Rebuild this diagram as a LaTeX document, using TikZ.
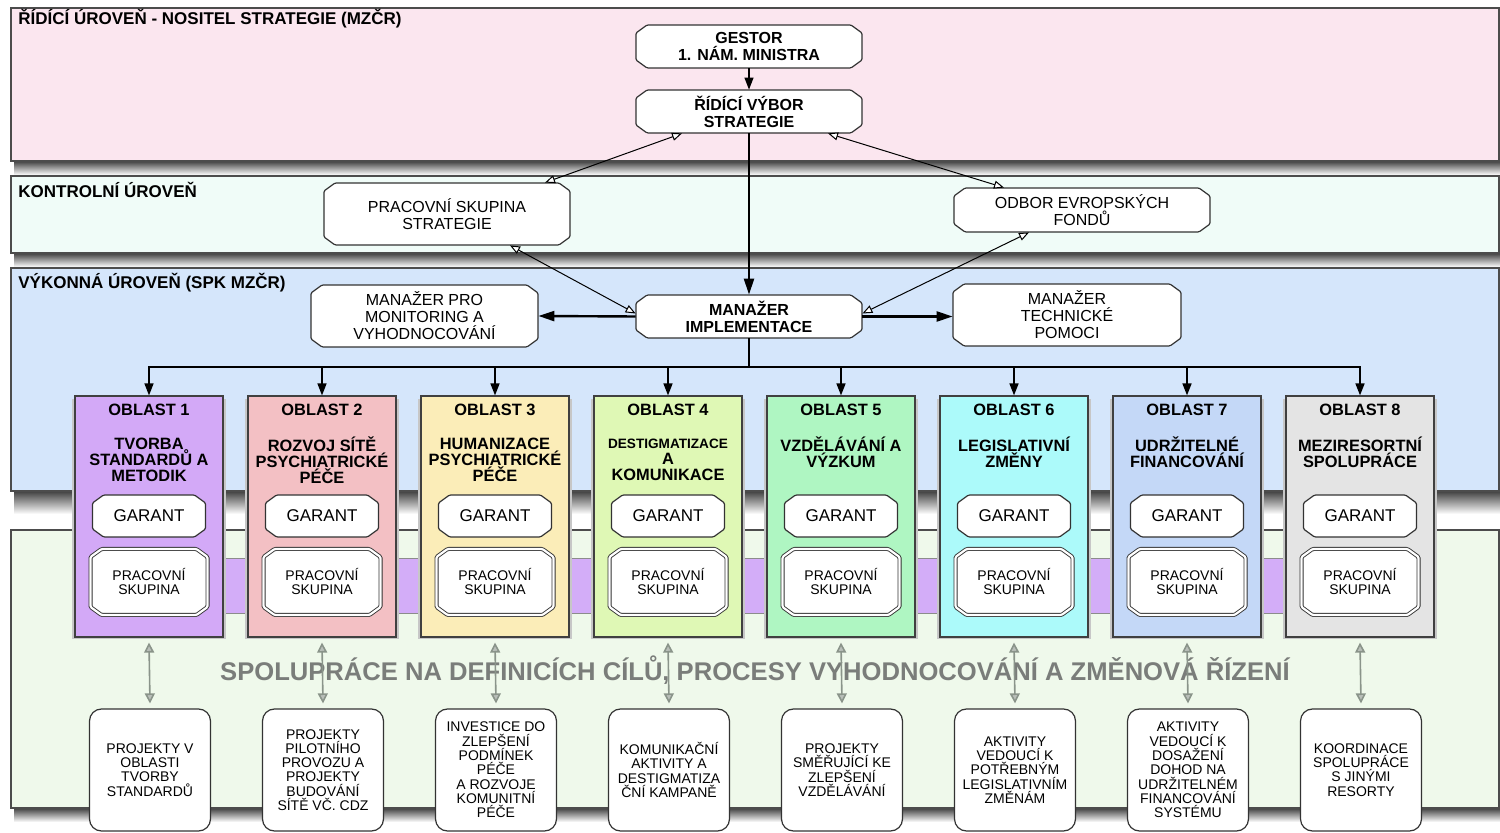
\documentclass[tikz,border=0pt]{standalone}
\usepackage{fontspec}
\setmainfont{Liberation Sans}
\usetikzlibrary{arrows.meta,calc}
\definecolor{bandA}{HTML}{FBE6EF}
\definecolor{bandB}{HTML}{F0FCF8}
\definecolor{bandC}{HTML}{D5E6FB}
\definecolor{bandD}{HTML}{EFF9EB}
\definecolor{obA}{HTML}{D3A9F7}
\definecolor{obB}{HTML}{F3C0C4}
\definecolor{obC}{HTML}{FBEDB8}
\definecolor{obD}{HTML}{DFF8B5}
\definecolor{obE}{HTML}{AFF6C2}
\definecolor{obF}{HTML}{ACFAFA}
\definecolor{obG}{HTML}{C4D8F7}
\definecolor{obH}{HTML}{E4E4E4}
\definecolor{stripcol}{HTML}{D3ADF8}
\definecolor{greyarr}{HTML}{8A948A}
\definecolor{bigtext}{HTML}{7A7D7A}
% #1 outline options, #2 node options, #3 name, #4 x, #5 y, #6 width, #7 height (pixels), #8 text
\newcommand{\octbox}[8]{%
  \path[octline,#1] (#4-#6/2+11,#5-#7/2) -- (#4+#6/2-11,#5-#7/2) -- (#4+#6/2,#5-#7/2+8)
     -- (#4+#6/2,#5+#7/2-8) -- (#4+#6/2-11,#5+#7/2) -- (#4-#6/2+11,#5+#7/2)
     -- (#4-#6/2,#5+#7/2-8) -- (#4-#6/2,#5-#7/2+8) -- cycle;
  \node[octnode,#2,minimum width=#6*0.5pt,minimum height=#7*0.5pt] (#3) at (#4,#5) {#8};%
}
\begin{document}
\begin{tikzpicture}[x=0.5pt,y=-0.5pt,
  band/.style={draw=black!70, line width=0.7pt},
  bandlabel/.style={anchor=west, inner sep=0pt, font=\bfseries\fontsize{8.5}{10}\selectfont},
  octline/.style={draw=black!80, fill=white, line width=0.6pt, rounded corners=0.6pt},
  octnode/.style={inner sep=0pt, align=center},
  boldtxt/.style={font=\bfseries\fontsize{8}{8.5}\selectfont},
  regtxt/.style={font=\fontsize{8}{8.5}\selectfont},
  obbox/.style={draw=black!75, line width=0.6pt, minimum width=74pt, minimum height=120.5pt, inner sep=0pt},
  obtitle/.style={inner sep=0pt, font=\bfseries\fontsize{8.2}{8}\selectfont},
  obsub/.style={inner sep=0pt, align=center, font=\bfseries\fontsize{8.2}{8}\selectfont},
  garanttxt/.style={font=\fontsize{8.5}{9}\selectfont},
  psline/.style={double=white, double distance=1.1pt, line width=0.45pt},
  pstxt/.style={font=\fontsize{7}{7}\selectfont},
  lowbox/.style={draw=black!80, fill=white, line width=0.6pt, rounded corners=6pt, minimum width=60.5pt, minimum height=61pt, inner sep=0pt, align=center, font=\fontsize{7}{7.15}\selectfont},
  thickarr/.style={line width=1.2pt, -{Triangle[length=8pt,width=5pt]}},
  treearr/.style={line width=0.8pt, -{Triangle[length=6pt,width=4.5pt]}},
  openarr/.style={line width=0.5pt, {Triangle[fill=white,length=5pt,width=4pt]}-{Triangle[fill=white,length=5pt,width=4pt]}},
  greyarrow/.style={draw=greyarr, line width=0.8pt, {Triangle[fill=greyarr!60,length=5pt,width=5pt]}-{Triangle[fill=greyarr!60,length=5pt,width=5pt]}}
]
\useasboundingbox (0,0) rectangle (1500,833);

% bands and their shadows
\shade[top color=black!75, bottom color=white] (14,161) rectangle (1500,175);
\shade[top color=black!75, bottom color=white] (14,253) rectangle (1500,267);
\shade[top color=black!75, bottom color=white] (14,491) rectangle (1500,514);
\shade[top color=black!75, bottom color=white] (14,808) rectangle (1500,822);
\draw[band, fill=bandA] (11,8) rectangle (1499,161);
\draw[band, fill=bandB] (11,176) rectangle (1499,253);
\draw[band, fill=bandC] (11,268) rectangle (1499,491);
\draw[band, fill=bandD] (11,530) rectangle (1499,808);
\node[bandlabel] (lab1) at (18,19) {ŘÍDÍCÍ ÚROVEŇ - NOSITEL STRATEGIE (MZČR)};
\node[bandlabel] (lab2) at (18,190) {KONTROLNÍ ÚROVEŇ};
\node[bandlabel] (lab3) at (18,283) {VÝKONNÁ ÚROVEŇ (SPK MZČR)};

% top nodes
\octbox{}{boldtxt}{gestor}{749}{46.5}{226}{43}{GESTOR\\1. NÁM. MINISTRA}
\octbox{}{boldtxt}{ridici}{749}{111.5}{226}{43}{ŘÍDÍCÍ VÝBOR\\STRATEGIE}
\octbox{}{regtxt}{pss}{447}{214}{246}{62}{PRACOVNÍ SKUPINA\\STRATEGIE}
\octbox{}{regtxt}{odbor}{1082}{210}{256}{44}{ODBOR EVROPSKÝCH\\FONDŮ}
\octbox{}{boldtxt}{impl}{749}{316.5}{226}{43}{MANAŽER\\IMPLEMENTACE}
\octbox{}{regtxt}{monit}{424.5}{316}{227}{62}{MANAŽER PRO\\MONITORING A\\VYHODNOCOVÁNÍ}
\octbox{}{regtxt}{tech}{1067}{315}{228}{62}{MANAŽER\\TECHNICKÉ\\POMOCI}

% connectors of the top part
\draw[line width=0.6pt, -{Triangle[length=6pt,width=4.5pt]}] (gestor) -- (ridici);
\draw[thickarr] (ridici) -- (impl);
\draw[thickarr] (impl.west) -- (monit.east);
\draw[thickarr] (impl.east) -- (impl.east -| tech.west);
\draw[openarr] ($(ridici.south)+(-67,0)$) -- ($(pss.north)+(98,0)$);
\draw[openarr] ($(ridici.south)+(79,0)$) -- ($(odbor.north)+(-78,0)$);
\draw[openarr] ($(pss.south)+(63,0)$) -- ($(impl.west)+(0,-3)$);
\draw[openarr] ($(odbor.south)+(-53,0)$) -- ($(impl.east)+(0,-3)$);
\coordinate (bus) at (749,367);

% purple strip behind the areas
\draw[draw=black!45, line width=0.4pt, fill=stripcol] (223,558) rectangle (1286,613);

% the eight areas
\foreach \i/\col/\sy/\sub in {
  1/obA/460/{TVORBA\\STANDARDŮ A\\METODIK},
  2/obB/460/{ROZVOJ SÍTĚ\\PSYCHIATRICKÉ\\PÉČE},
  3/obC/460/{HUMANIZACE\\PSYCHIATRICKÉ\\PÉČE},
  4/obD/460/{{\fontsize{6.8}{8}\selectfont DESTIGMATIZACE}\\A\\KOMUNIKACE},
  5/obE/452/{VZDĚLÁVÁNÍ A\\VÝZKUM},
  6/obF/452/{LEGISLATIVNÍ\\ZMĚNY},
  7/obG/452/{UDRŽITELNÉ\\FINANCOVÁNÍ},
  8/obH/452/{MEZIRESORTNÍ\\SPOLUPRÁCE}}{
  \pgfmathsetmacro{\cx}{149+173*(\i-1)}
  \fill[black!22] (\cx-77,399) rectangle (\cx+77,639);
  \node[obbox, fill=\col] (ob\i) at (\cx,516.5) {};
  \node[obtitle] (obt\i) at (\cx,410) {OBLAST \i};
  \node[obsub] (obs\i) at (\cx,\sy) {\sub};
  \octbox{}{garanttxt}{gar\i}{\cx}{516}{113}{42}{GARANT}
  \octbox{psline}{pstxt}{ps\i}{\cx}{582}{117}{66}{PRACOVNÍ\\SKUPINA}
  \draw[treearr] (impl.south) -- (bus) -| (ob\i.north);
}

% big text
\node[inner sep=0pt, text=bigtext, font=\bfseries\fontsize{12.8}{14}\selectfont] (coop) at (755,670) {SPOLUPRÁCE NA DEFINICÍCH CÍLŮ, PROCESY VYHODNOCOVÁNÍ A ZMĚNOVÁ ŘÍZENÍ};

% lower boxes and grey arrows
\foreach \i/\txt in {
  1/{PROJEKTY V\\OBLASTI\\TVORBY\\STANDARDŮ},
  2/{PROJEKTY\\PILOTNÍHO\\PROVOZU A\\PROJEKTY\\BUDOVÁNÍ\\SÍTĚ VČ. CDZ},
  3/{INVESTICE DO\\ZLEPŠENÍ\\PODMÍNEK\\PÉČE\\A ROZVOJE\\KOMUNITNÍ\\PÉČE},
  4/{KOMUNIKAČNÍ\\AKTIVITY A\\DESTIGMATIZA\\ČNÍ KAMPANĚ},
  5/{PROJEKTY\\SMĚŘUJÍCÍ KE\\ZLEPŠENÍ\\VZDĚLÁVÁNÍ},
  6/{AKTIVITY\\VEDOUCÍ K\\POTŘEBNÝM\\LEGISLATIVNÍM\\ZMĚNÁM},
  7/{AKTIVITY\\VEDOUCÍ K\\DOSAŽENÍ\\DOHOD NA\\UDRŽITELNÉM\\FINANCOVÁNÍ\\SYSTÉMU},
  8/{KOORDINACE\\SPOLUPRÁCE\\S JINÝMI\\RESORTY}}{
  \pgfmathsetmacro{\cx}{150+173*(\i-1)}
  \node[lowbox] (low\i) at (\cx,770) {\txt};
  \draw[greyarrow] ($(ob\i.south)+(0,5)$) -- ($(low\i.north)+(0,-5)$);
}
\end{tikzpicture}
\end{document}
